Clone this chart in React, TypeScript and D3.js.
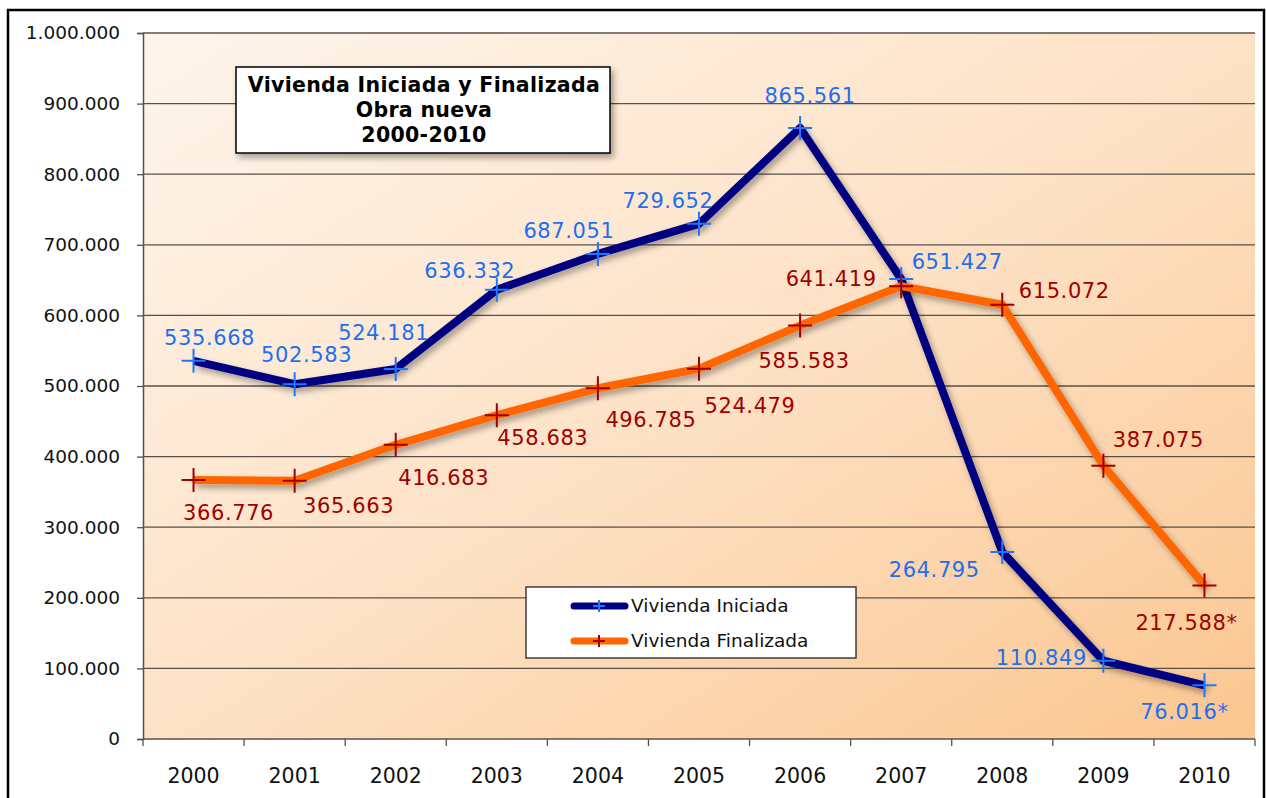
import * as d3 from "d3";
import { useEffect, useRef } from "react";

const years = ["2000", "2001", "2002", "2003", "2004", "2005", "2006", "2007", "2008", "2009", "2010"];
const iniciada = [535668, 502583, 524181, 636332, 687051, 729652, 865561, 651427, 264795, 110849, 76016];
const finalizada = [366776, 365663, 416683, 458683, 496785, 524479, 585583, 641419, 615072, 387075, 217588];
// the 2010 figures are provisional
const provisional = [false, false, false, false, false, false, false, false, false, false, true];
const yTicks = [0, 100000, 200000, 300000, 400000, 500000, 600000, 700000, 800000, 900000, 1000000];
const titleLines = ["Vivienda Iniciada y Finalizada", "Obra nueva", "2000-2010"];

// label offsets from each point (dx, dy to baseline)
const iniOffsets = [[16, -16], [12, -22], [-12, -29], [-27, -12], [-29, -16], [-31, -16], [10, -25], [56, -10], [-68, 25], [-62, 4], [-20, 34]];
const finOffsets = [[35, 40], [54, 32], [48, 40], [46, 30], [53, 39], [51, 44], [4, 42], [-70, 0], [62, -7], [55, -19], [-18, 45]];

export default function App() {
  const svgRef = useRef(null);

  useEffect(() => {
    const width = 1266;
    const height = 798;
    const m = { left: 143, right: 11, top: 33, bottom: 59 };
    const svg = d3.select(svgRef.current).attr("width", width).attr("height", height);
    svg.selectAll("*").remove();

    const defs = svg.append("defs");
    const grad = defs
      .append("linearGradient")
      .attr("id", "bg")
      .attr("x1", "0%")
      .attr("y1", "0%")
      .attr("x2", "100%")
      .attr("y2", "100%");
    grad.append("stop").attr("offset", "0%").attr("stop-color", "#FEF5EC");
    grad.append("stop").attr("offset", "50%").attr("stop-color", "#FDE2C6");
    grad.append("stop").attr("offset", "100%").attr("stop-color", "#FBC690");

    const shadow = defs.append("filter").attr("id", "shadow").attr("x", "-10%").attr("y", "-10%").attr("width", "130%").attr("height", "140%");
    shadow.append("feDropShadow").attr("dx", 3).attr("dy", 4).attr("stdDeviation", 3).attr("flood-color", "#000").attr("flood-opacity", 0.35);

    const font = "'DejaVu Sans', Verdana, sans-serif";

    // outer frame
    svg
      .append("rect")
      .attr("x", 8)
      .attr("y", 10)
      .attr("width", 1256)
      .attr("height", 800)
      .attr("fill", "#fff")
      .attr("stroke", "#000")
      .attr("stroke-width", 2.5);

    const x = d3
      .scaleBand()
      .domain(years)
      .range([m.left, width - m.right]);
    const y = d3
      .scaleLinear()
      .domain([0, 1000000])
      .range([height - m.bottom, m.top]);
    const cx = (i) => x(years[i]) + x.bandwidth() / 2;

    svg
      .append("rect")
      .attr("x", m.left)
      .attr("y", m.top)
      .attr("width", width - m.right - m.left)
      .attr("height", height - m.bottom - m.top)
      .attr("fill", "url(#bg)");

    // gridlines
    svg
      .append("g")
      .selectAll("line")
      .data(yTicks.filter((d) => d > 0))
      .join("line")
      .attr("x1", m.left)
      .attr("x2", width - m.right)
      .attr("y1", (d) => y(d))
      .attr("y2", (d) => y(d))
      .attr("stroke", "#5a5048")
      .attr("stroke-width", 1.3);

    // y axis
    const fmt = (d) => d3.format(",")(d).replace(/,/g, ".");
    const yAxis = svg
      .append("g")
      .attr("transform", `translate(${m.left},0)`)
      .call(d3.axisLeft(y).tickValues(yTicks).tickSize(6).tickPadding(17).tickFormat(fmt));
    yAxis.select(".domain").attr("stroke", "#5a5048").attr("stroke-width", 1.5);
    yAxis.selectAll(".tick line").attr("stroke", "#5a5048").attr("stroke-width", 1.3);
    yAxis.selectAll("text").attr("font-family", font).attr("font-size", 18.5).attr("fill", "#111");

    // x axis
    const xAxis = svg.append("g").attr("transform", `translate(0,${height - m.bottom})`);
    xAxis
      .append("line")
      .attr("x1", m.left)
      .attr("x2", width - m.right)
      .attr("stroke", "#5a5048")
      .attr("stroke-width", 1.5);
    xAxis
      .selectAll("line.tk")
      .data([...years.map((d) => x(d)), width - m.right])
      .join("line")
      .attr("class", "tk")
      .attr("x1", (d) => d)
      .attr("x2", (d) => d)
      .attr("y1", 0)
      .attr("y2", 7)
      .attr("stroke", "#5a5048")
      .attr("stroke-width", 1.3);
    xAxis
      .selectAll("text")
      .data(years)
      .join("text")
      .attr("x", (d) => x(d) + x.bandwidth() / 2)
      .attr("y", 44)
      .attr("text-anchor", "middle")
      .attr("font-family", font)
      .attr("font-size", 20.5)
      .attr("fill", "#111")
      .text((d) => d);

    const series = [
      { name: "Vivienda Iniciada", values: iniciada, line: "#000080", mark: "#1E78FF", label: "#1E6FF0", offsets: iniOffsets },
      { name: "Vivienda Finalizada", values: finalizada, line: "#FF6600", mark: "#A00000", label: "#A00000", offsets: finOffsets },
    ];

    const lineGen = d3
      .line()
      .x((d, i) => cx(i))
      .y((d) => y(d));

    series.forEach((s) => {
      svg
        .append("path")
        .attr("d", lineGen(s.values))
        .attr("fill", "none")
        .attr("stroke", s.line)
        .attr("stroke-width", 8)
        .attr("stroke-linejoin", "round")
        .attr("filter", "url(#shadow)");
    });

    series.forEach((s) => {
      const g = svg.append("g");
      s.values.forEach((v, i) => {
        const px = cx(i);
        const py = y(v);
        g.append("path")
          .attr("d", `M${px - 12},${py}H${px + 12}M${px},${py - 12}V${py + 12}`)
          .attr("stroke", s.mark)
          .attr("stroke-width", 2);
      });
      g.selectAll("text")
        .data(s.values)
        .join("text")
        .attr("x", (d, i) => cx(i) + s.offsets[i][0])
        .attr("y", (d, i) => y(d) + s.offsets[i][1])
        .attr("text-anchor", "middle")
        .attr("font-family", font)
        .attr("font-size", 21)
        .attr("letter-spacing", 0.6)
        .attr("fill", s.label)
        .text((d, i) => fmt(d) + (provisional[i] ? "*" : ""));
    });

    // title box
    const tb = svg.append("g");
    tb.append("rect")
      .attr("x", 236)
      .attr("y", 67)
      .attr("width", 374)
      .attr("height", 86)
      .attr("fill", "#fff")
      .attr("stroke", "#000")
      .attr("stroke-width", 1.5)
      .attr("filter", "url(#shadow)");
    tb.selectAll("text")
      .data(titleLines)
      .join("text")
      .attr("x", 424)
      .attr("y", (d, i) => 92 + i * 25)
      .attr("text-anchor", "middle")
      .attr("font-family", font)
      .attr("font-weight", "bold")
      .attr("font-size", 20.5)
      .attr("letter-spacing", 0.3)
      .attr("fill", "#000")
      .text((d) => d);

    // legend
    const lg = svg.append("g");
    lg.append("rect")
      .attr("x", 526)
      .attr("y", 587)
      .attr("width", 330)
      .attr("height", 71)
      .attr("fill", "#fff")
      .attr("stroke", "#222")
      .attr("stroke-width", 1.3);
    series.forEach((s, i) => {
      const ly = 606 + i * 35;
      lg.append("line")
        .attr("x1", 574)
        .attr("x2", 625)
        .attr("y1", ly)
        .attr("y2", ly)
        .attr("stroke", s.line)
        .attr("stroke-width", 7)
        .attr("stroke-linecap", "round");
      lg.append("path")
        .attr("d", `M${599 - 6},${ly}H${599 + 6}M${599},${ly - 6}V${ly + 6}`)
        .attr("stroke", s.mark)
        .attr("stroke-width", 2);
      lg.append("text")
        .attr("x", 631)
        .attr("y", ly + 6)
        .attr("font-family", font)
        .attr("font-size", 18.5)
        .attr("fill", "#111")
        .text(s.name);
    });
  }, []);

  return <svg ref={svgRef} style={{ position: "absolute", left: 0, top: 0 }}></svg>;
}
